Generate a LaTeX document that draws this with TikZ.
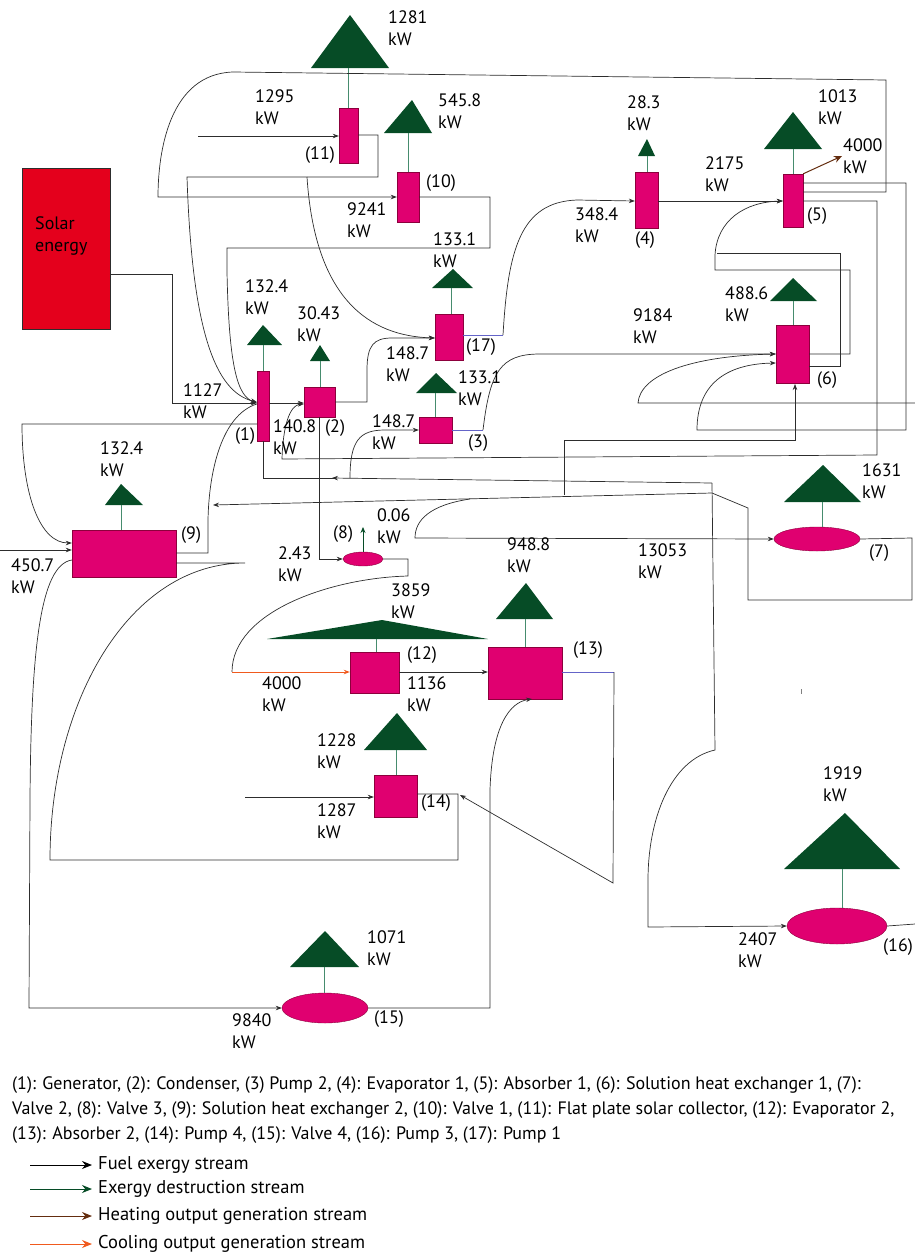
\documentclass[tikz,border=0pt]{standalone}
\usepackage{fontspec}
\setmainfont{PT Sans}
\usetikzlibrary{arrows.meta,shapes.geometric}
\definecolor{mag}{RGB}{224,0,112}
\definecolor{magline}{RGB}{140,0,60}
\definecolor{dgreen}{RGB}{6,76,38}
\definecolor{stemc}{RGB}{70,140,110}
\definecolor{solred}{RGB}{228,0,28}
\definecolor{flowc}{RGB}{45,45,45}
\definecolor{bluel}{RGB}{100,100,200}
\definecolor{brownc}{RGB}{100,45,15}
\definecolor{orangec}{RGB}{240,90,30}
\begin{document}
\begin{tikzpicture}[x=1pt,y=-1pt,
  unit/.style n args={2}{draw=magline,fill=mag,line width=0.4pt,inner sep=0,minimum width=#1,minimum height=#2},
  valve/.style n args={2}{ellipse,draw=magline,fill=mag,line width=0.4pt,inner sep=0,minimum width=#1,minimum height=#2},
  tri/.style={fill=dgreen},
  stem/.style={draw=stemc,line width=0.8pt},
  fl/.style={draw=flowc,line width=0.7pt},
  arr/.style={-{Stealth[length=6pt,width=4.5pt]}},
  blu/.style={draw=bluel,line width=0.8pt},
  lbl/.style={anchor=west,align=left,inner sep=0,font=\fontsize{18}{22}\selectfont},
  tag/.style={anchor=west,inner sep=0,font=\fontsize{18}{22}\selectfont},
  keytxt/.style={anchor=west,inner sep=0,font=\fontsize{18.5}{22}\selectfont},
  keyarr/.style={line width=1pt,-{Stealth[length=10pt,width=8pt]}}]
\useasboundingbox (0,0) rectangle (915,1256);

% solar
\node[draw=flowc,fill=solred,line width=0.5pt,minimum width=88,minimum height=161,inner sep=0] (solar) at (66,248.5) {};
\node[lbl] (soltxt) at (35,236) {Solar\\energy};

% components
\node[unit={12}{70}] (c1) at (263,406) {};
\node[unit={31}{30}] (c2) at (319.5,402) {};
\node[unit={33}{26}] (c3) at (435.5,430) {};
\node[unit={23}{56}] (c4) at (646.5,200) {};
\node[unit={20}{53}] (c5) at (793,200.5) {};
\node[unit={33}{58}] (c6) at (792.5,354) {};
\node[valve={86}{24}] (c7) at (817,539) {};
\node[valve={40}{14}] (c8) at (363,559) {};
\node[unit={104}{47}] (c9) at (124,553.5) {};
\node[unit={22}{50}] (c10) at (408,197) {};
\node[unit={19}{55}] (c11) at (348.5,135.5) {};
\node[unit={49}{41}] (c12) at (374.5,672.5) {};
\node[unit={74}{52}] (c13) at (525,673) {};
\node[unit={43}{42}] (c14) at (395.5,796) {};
\node[valve={86}{30}] (c15) at (325,1008) {};
\node[valve={100}{36}] (c16) at (837,926) {};
\node[unit={28}{46}] (c17) at (449,337) {};

% destruction triangles and stems
\fill[tri] (311,68) -- (350,15) -- (389,68) -- cycle; \draw[stem] (348,68) -- (c11.north -| 348,0);
\fill[tri] (384,133) -- (412,100) -- (432,133) -- cycle; \draw[stem] (408,133) -- (c10.north);
\fill[tri] (638,156) -- (647,139) -- (655,156) -- cycle; \draw[stem] (647,156) -- (c4.north -| 647,0);
\fill[tri] (764,149) -- (793,112) -- (822,149) -- cycle; \draw[stem] (793,149) -- (c5.north);
\fill[tri] (432,288) -- (453,269) -- (473,288) -- cycle; \draw[stem] (451,288) -- (c17.north -| 451,0);
\fill[tri] (247,345) -- (263,325) -- (282,345) -- cycle; \draw[stem] (263,345) -- (c1.north);
\fill[tri] (310,361) -- (320,345) -- (330,361) -- cycle; \draw[stem] (320,361) -- (c2.north -| 320,0);
\fill[tri] (770,301) -- (793,278) -- (817,301) -- cycle; \draw[stem] (793,301) -- (c6.north -| 793,0);
\fill[tri] (416,393) -- (436,373) -- (457,393) -- cycle; \draw[stem] (435,393) -- (c3.north -| 435,0);
\fill[tri] (105,505) -- (121,484) -- (143,505) -- cycle; \draw[stem] (121,505) -- (c9.north -| 121,0);
\fill[tri] (784,502) -- (823,465) -- (861,502) -- cycle; \draw[stem] (822,502) -- (c7.north -| 822,0);
\fill[tri] (267,639) -- (382,620) -- (488,639) -- cycle; \draw[stem] (376,639) -- (c12.north -| 376,0);
\fill[tri] (496,619) -- (526,583) -- (553,619) -- cycle; \draw[stem] (525,619) -- (c13.north);
\fill[tri] (364,750) -- (397,713) -- (427,750) -- cycle; \draw[stem] (396,750) -- (c14.north -| 396,0);
\fill[tri] (290,967) -- (325,931) -- (359,967) -- cycle; \draw[stem] (324,967) -- (c15.north -| 324,0);
\fill[tri] (784,869) -- (845,813) -- (900,869) -- cycle; \draw[stem] (842,869) -- (c16.north -| 842,0);
\draw[draw=dgreen,line width=0.8pt,-{Stealth[length=6pt,width=5pt]}] (c8.north) -- (363,527);

% flows
\draw[fl,arr] (solar.east |- 0,274) -- (172,274) -- (172,403) -- (c1.west |- 0,403);
\draw[fl,arr] (198,136) -- (c11.west |- 0,136);
\draw[fl,arr] (c11.east |- 0,135) -- (378,135) -- (378,177) -- (187,177) .. controls (192,330) and (215,392) .. (c1.west |- 0,402);
\draw[fl,arr] (307,177) .. controls (315,300) and (370,336) .. (c17.west |- 0,338);
\draw[fl,arr] (c5.east |- 0,192) -- (886,192) -- (886,80) -- (233,72) .. controls (170,74) and (158,150) .. (158,197) -- (c10.west |- 0,197);
\draw[fl,arr] (c10.east |- 0,197) -- (490,197) -- (490,248) -- (227,248) -- (227,272) .. controls (229,370) and (238,396) .. (c1.west |- 0,403);
\draw[fl,arr] (c1.west |- 0,424) -- (22,424) .. controls (22,495) and (40,543) .. (c9.west |- 0,543);
\draw[fl,arr] (0,550) -- (c9.west |- 0,550);
\draw[fl] (c1.west |- 0,404) .. controls (222,415) and (209,470) .. (208,520) -- (208,553) -- (c9.east |- 0,553);
\draw[fl,arr] (c1.east |- 0,403) -- (c2.west |- 0,403);
\draw[fl,arr] (c5.east |- 0,201) -- (877,201) -- (877,455) -- (282,459) .. controls (283,425) and (290,405) .. (c2.west |- 0,404);
\draw[fl,arr] (c2.east |- 0,402) -- (367,402) -- (367,370) .. controls (367,345) and (374,338) .. (392,338) -- (c17.west |- 0,338);
\draw[blu] (c17.east |- 0,335) -- (503,335);
\draw[fl,arr] (503,335) .. controls (508,250) and (520,202) .. (577,200) -- (c4.west |- 0,201);
\draw[fl,arr] (c4.east |- 0,201) -- (c5.west |- 0,201);
\draw[draw=brownc,line width=1pt,-{Stealth[length=8pt,width=7pt]}] (c5.north east) -- (842,156);
\draw[fl,arr] (c5.east |- 0,183) -- (906,183) -- (906,430) -- (697,430) .. controls (697,385) and (725,364) .. (c6.west |- 0,363);
\draw[fl,arr] (915,403) -- (638,403) .. controls (640,375) and (690,356) .. (c6.west |- 0,354);
\draw[fl,arr] (c6.east |- 0,354) -- (850,354) -- (850,270) -- (715,270) -- (715,255) .. controls (717,220) and (745,202) .. (c5.west |- 0,201);
\draw[fl] (c6.east |- 0,366) -- (840,366) -- (840,253) -- (717,253);
\draw[blu] (c3.east) -- (483,430);
\draw[fl,arr] (483,430) .. controls (490,372) and (500,354) .. (540,354) -- (c6.west |- 0,354);
\draw[fl,arr] (c2.south) -- (c2.south |- c8.west) -- (c8.west);
\draw[fl] (c8.east) -- (408,559) -- (408,576) .. controls (330,578) and (232,612) .. (232,672);
\draw[draw=orangec,line width=0.9pt,arr] (232,672) -- (c12.west |- 0,672);
\draw[fl,arr] (c12.east |- 0,672) -- (c13.west |- 0,672);
\draw[blu] (c13.east |- 0,672) -- (614,672);
\draw[fl,arr] (614,672) -- (613,883) -- (460,795);
\draw[fl] (c14.east |- 0,794) -- (458,794) -- (458,860) -- (50,860) .. controls (50,700) and (130,563) .. (245,563) -- (c9.east |- 0,563);
\draw[fl,arr] (245,797) -- (c14.west |- 0,797);
\draw[fl,arr] (c9.west |- 0,560) .. controls (40,565) and (31,650) .. (30,800) -- (29,1008) -- (c15.west);
\draw[fl,arr] (c15.east) -- (490,1008) -- (490,790) .. controls (492,725) and (510,702) .. (532,699);
\draw[fl] (c1.south) -- (263,478) -- (335,478);
\draw[fl,arr] (712,483) -- (332,478);
\draw[fl,arr] (712,483) -- (715,750) .. controls (670,760) and (648,820) .. (648,880) -- (648,927) -- (c16.west);
\draw[fl,arr] (350,478) .. controls (350,440) and (360,430) .. (385,430) -- (c3.west);
\draw[fl,arr] (c7.east) -- (912,538) -- (912,600) -- (748,600) -- (748,508) -- (712,493) -- (213,505);
\draw[fl,arr] (564,495) -- (564,440) -- (795,440) -- (795,384);
\draw[fl,arr] (470,499) .. controls (430,505) and (415,520) .. (415,538) -- (c7.west);
\draw[fl] (c16.east) -- (915,924);
\draw[draw=gray,line width=1pt] (801,689) -- (801,694);

% labels
\node[lbl] (l1281) at (388,28.5) {1281\\kW};
\node[lbl] (l1295) at (255,107.5) {1295\\kW};
\node[lbl] (l5458) at (438,111) {545.8\\kW};
\node[lbl] (l283) at (627,113.5) {28.3\\kW};
\node[lbl] (l1013) at (818,107.5) {1013\\kW};
\node[lbl] (l4000h) at (843,156.5) {4000\\kW};
\node[lbl] (l2175) at (705,174) {2175\\kW};
\node[lbl] (l9241) at (347,220) {9241\\kW};
\node[lbl] (l3484) at (575,225) {348.4\\kW};
\node[lbl] (l1331a) at (433,250) {133.1\\kW};
\node[lbl] (l1324a) at (245,297) {132.4\\kW};
\node[lbl] (l3043) at (297,324) {30.43\\kW};
\node[lbl] (l9184) at (633,326) {9184\\kW};
\node[lbl] (l4886) at (725,304) {488.6\\kW};
\node[lbl] (l1487a) at (386,364) {148.7\\kW};
\node[lbl] (l1331b) at (458,388.5) {133.1\\kW};
\node[lbl] (l1127) at (183,401.5) {1127\\kW};
\node[lbl] (l1408) at (273,437) {140.8\\kW};
\node[lbl] (l1487b) at (372,432.5) {148.7\\kW};
\node[lbl] (l1324b) at (100,459.5) {132.4\\kW};
\node[lbl] (l1631) at (862,481) {1631\\kW};
\node[lbl] (l006) at (377,526.5) {0.06\\kW};
\node[lbl] (l243) at (278,564) {2.43\\kW};
\node[lbl] (l4507) at (11,576) {450.7\\kW};
\node[lbl] (l9488) at (507,555.5) {948.8\\kW};
\node[lbl] (l13053) at (638,561) {13053\\kW};
\node[lbl] (l3859) at (391,601) {3859\\kW};
\node[lbl] (l4000c) at (262,694) {4000\\kW};
\node[lbl] (l1136) at (407,694) {1136\\kW};
\node[lbl] (l1228) at (317,751) {1228\\kW};
\node[lbl] (l1287) at (317,821) {1287\\kW};
\node[lbl] (l1919) at (823,784.5) {1919\\kW};
\node[lbl] (l1071) at (367,948) {1071\\kW};
\node[lbl] (l9840) at (232,1031.5) {9840\\kW};
\node[lbl] (l2407) at (738,950.5) {2407\\kW};

% component tags
\node[tag] (t11) at (305,155) {(11)};
\node[tag] (t10) at (426,183) {(10)};
\node[tag,anchor=center] (t4) at (645,240) {(4)};
\node[tag] (t5) at (807,216) {(5)};
\node[tag] (t17) at (466,347) {(17)};
\node[tag] (t6) at (817,380) {(6)};
\node[tag] (t2) at (325,428) {(2)};
\node[tag] (t3) at (468,443) {(3)};
\node[tag] (t1) at (235,436) {(1)};
\node[tag] (t9) at (181,535) {(9)};
\node[tag] (t8) at (333,534) {(8)};
\node[tag] (t7) at (869,553) {(7)};
\node[tag] (t12) at (407,655) {(12)};
\node[tag] (t13) at (573,650) {(13)};
\node[tag] (t14) at (421,803) {(14)};
\node[tag] (t15) at (374,1019) {(15)};
\node[tag] (t16) at (883,947) {(16)};

% caption
\node[anchor=west,inner sep=0,font=\fontsize{18}{25}\selectfont,align=left] (caption) at (12,1110)
{(1): Generator, (2): Condenser, (3) Pump 2, (4): Evaporator 1, (5): Absorber 1, (6): Solution heat exchanger 1, (7):\\
Valve 2, (8): Valve 3, (9): Solution heat exchanger 2, (10): Valve 1, (11): Flat plate solar collector, (12): Evaporator 2,\\
(13): Absorber 2, (14): Pump 4, (15): Valve 4, (16): Pump 3, (17): Pump 1};

% legend
\coordinate (g1a) at (30,1165); \coordinate (g1b) at (92,1165);
\coordinate (g2a) at (30,1189); \coordinate (g2b) at (92,1189);
\coordinate (g3a) at (30,1216); \coordinate (g3b) at (92,1216);
\coordinate (g4a) at (30,1244); \coordinate (g4b) at (92,1244);
\draw[keyarr,draw=black] (g1a) -- (g1b);
\draw[keyarr,draw=dgreen] (g2a) -- (g2b);
\draw[keyarr,draw=brownc] (g3a) -- (g3b);
\draw[keyarr,draw=orangec] (g4a) -- (g4b);
\node[keytxt] (k1) at (98,1165) {Fuel exergy stream};
\node[keytxt] (k2) at (98,1189) {Exergy destruction stream};
\node[keytxt] (k3) at (98,1216) {Heating output generation stream};
\node[keytxt] (k4) at (98,1244) {Cooling output generation stream};
\end{tikzpicture}
\end{document}
